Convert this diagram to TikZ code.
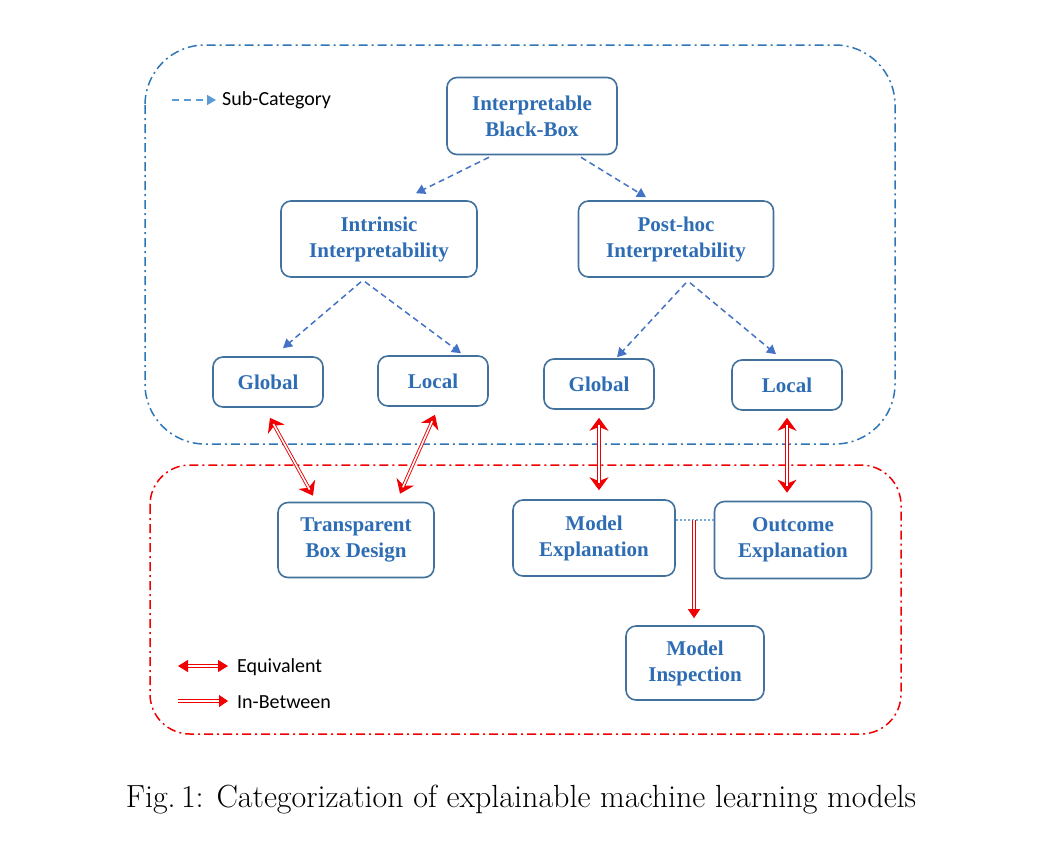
\documentclass[tikz,border=0pt]{standalone}
\usepackage{fontspec}
\newfontfamily\bfont{Liberation Serif}
\newfontfamily\lfont{Carlito}
\usetikzlibrary{arrows.meta}
\definecolor{boxc}{HTML}{41719C}
\definecolor{txtc}{HTML}{2E6DB4}
\definecolor{arrc}{HTML}{4472C4}
\definecolor{legc}{HTML}{5B9BD5}
\definecolor{regb}{HTML}{2E75B6}
\definecolor{regr}{HTML}{F00000}
\definecolor{dotc}{HTML}{6FA8DC}
\tikzset{
  box/.style={draw=boxc, line width=1.6pt, rounded corners=10pt, align=center,
    font=\bfont\bfseries\fontsize{21}{26}\selectfont, text=txtc, inner sep=0pt},
  sub/.style={draw=arrc, line width=1.5pt, dash pattern=on 6pt off 4pt,
    -{Triangle[length=9pt,width=10pt]}, arrc},
  eqv/.style={draw=regr, line width=1.2pt,
    {Stealth[length=13pt,width=19pt,inset=4pt]}-{Stealth[length=13pt,width=19pt,inset=4pt]},
    postaction={draw=regr, line width=0.9pt, double=white, double distance=1.6pt, -, shorten <=7pt, shorten >=7pt}},
  eqvleg/.style={draw=regr, line width=0.9pt, double=white, double distance=1.6pt,
    {Triangle[length=10pt,width=12pt]}-{Triangle[length=10pt,width=12pt]}},
  inb/.style={draw=regr, line width=0.9pt, double=white, double distance=1.6pt,
    -{Triangle[length=9pt,width=12pt]}},
  region/.style={line width=1.5pt, dash pattern=on 9pt off 4pt on 2pt off 4pt},
  legtxt/.style={font=\lfont\fontsize{20}{22}\selectfont, anchor=west, inner sep=0pt}
}
\begin{document}
\begin{tikzpicture}[x=1pt,y=-1pt]
\useasboundingbox (0,0) rectangle (1040,849);
% regions
\draw[region, draw=regb, rounded corners=60pt] (145,45) rectangle (895,444);
\draw[region, draw=regr, rounded corners=40pt] (150,465) rectangle (901,734);
% nodes
\node[box, minimum width=170pt, minimum height=77pt] (ib) at (532,116) {Interpretable\\Black-Box};
\node[box, minimum width=196pt, minimum height=76pt] (ii) at (379,239) {Intrinsic\\Interpretability};
\node[box, minimum width=195pt, minimum height=76pt] (ph) at (676,239) {Post-hoc\\Interpretability};
\node[box, minimum width=110pt, minimum height=50pt] (g1) at (268,382) {Global};
\node[box, minimum width=110pt, minimum height=50pt] (l1) at (433,381) {Local};
\node[box, minimum width=110pt, minimum height=50pt] (g2) at (599,384) {Global};
\node[box, minimum width=110pt, minimum height=50pt] (l2) at (787,385) {Local};
\node[box, minimum width=156pt, minimum height=75pt] (tb) at (356,540) {Transparent\\Box Design};
\node[box, minimum width=162pt, minimum height=76pt] (me) at (594,538) {Model\\Explanation};
\node[box, minimum width=157pt, minimum height=77pt] (oe) at (793,540) {Outcome\\Explanation};
\node[box, minimum width=138pt, minimum height=74pt] (mi) at (695,663) {Model\\Inspection};
% sub-category arrows
\draw[sub] ([xshift=-43pt,yshift=-2pt]ib.south) -- ([xshift=37pt,yshift=7pt]ii.north);
\draw[sub] ([xshift=49pt,yshift=-2pt]ib.south) -- ([xshift=-30pt,yshift=3pt]ph.north);
\draw[sub] ([xshift=-18pt,yshift=-4pt]ii.south) -- ([xshift=15pt,yshift=8pt]g1.north);
\draw[sub] ([xshift=-14pt,yshift=-4pt]ii.south) -- ([xshift=28pt,yshift=2pt]l1.north);
\draw[sub] ([xshift=10pt,yshift=-5pt]ph.south) -- ([xshift=18pt,yshift=1pt]g2.north);
\draw[sub] ([xshift=14pt,yshift=-5pt]ph.south) -- ([xshift=-11pt,yshift=5pt]l2.north);
% equivalent arrows
\draw[eqv] ([xshift=2pt,yshift=-10pt]g1.south) -- ([xshift=-43pt,yshift=6pt]tb.north);
\draw[eqv] ([xshift=2pt,yshift=-8pt]l1.south) -- ([xshift=44pt,yshift=8pt]tb.north);
\draw[eqv] ([yshift=-8pt]g2.south) -- ([xshift=5pt,yshift=9pt]me.north);
\draw[eqv] ([yshift=-7pt]l2.south) -- ([xshift=-6pt,yshift=8pt]oe.north);
% in-between
\draw[dotc, line width=2pt, dash pattern=on 2pt off 2pt] ([yshift=18pt]me.east) -- ([yshift=20pt]oe.west);
\coordinate (mid) at (694,520);
\draw[inb] (mid) -- ([xshift=-1pt,yshift=7pt]mi.north);
% legends
\coordinate (s1) at (172,100); \coordinate (s2) at (216,100);
\draw[sub, draw=legc, legc, dash pattern=on 7pt off 5pt] (s1) -- (s2);
\node[legtxt] (sl) at (222,100) {Sub-Category};
\coordinate (e1) at (178,666); \coordinate (e2) at (228,666);
\draw[eqvleg] (e1) -- (e2);
\node[legtxt] (el) at (237,667) {Equivalent};
\coordinate (n1) at (178,701); \coordinate (n2) at (228,701);
\draw[inb] (n1) -- (n2);
\node[legtxt] (nl) at (237,702) {In-Between};
% caption
\node[font=\fontsize{32}{36}\selectfont, inner sep=0pt] (cap) at (521,800) {Fig.\,1: Categorization of explainable machine learning models};
\end{tikzpicture}
\end{document}
